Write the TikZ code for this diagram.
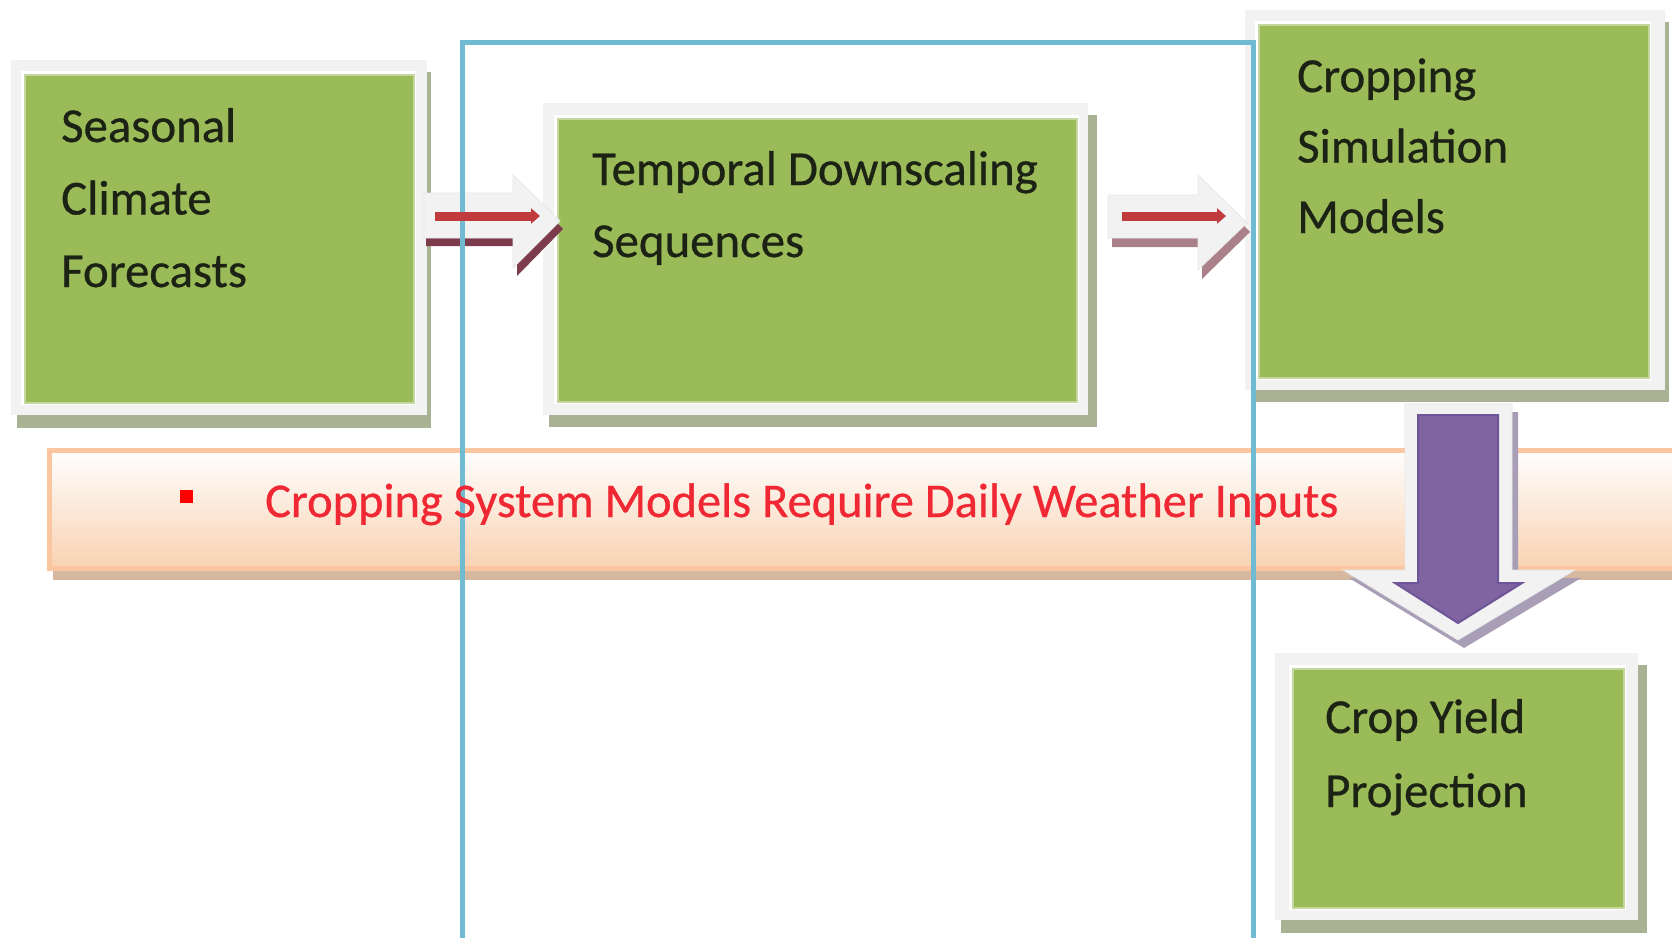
\documentclass[tikz,border=0pt]{standalone}
\usepackage{fontspec}
\setmainfont{Carlito}
\newfontfamily\heavyfont{Carlito}[FakeBold=0.6]
\usetikzlibrary{arrows.meta}
\definecolor{boxgreen}{RGB}{155,187,89}
\definecolor{boxgreenedge}{RGB}{196,216,158}
\definecolor{framegray}{RGB}{242,242,242}
\definecolor{shadowgreen}{RGB}{170,178,148}
\definecolor{bannerborder}{RGB}{250,198,160}
\definecolor{bannerbottom}{RGB}{249,210,178}
\definecolor{bannermid}{RGB}{253,236,224}
\definecolor{bannershadow}{RGB}{214,184,160}
\definecolor{textred}{RGB}{240,40,52}
\definecolor{arrowred}{RGB}{192,58,62}
\definecolor{maroonA}{RGB}{125,60,76}
\definecolor{maroonB}{RGB}{170,128,138}
\definecolor{purplefill}{RGB}{128,100,162}
\definecolor{purpleedge}{RGB}{110,85,152}
\definecolor{purpleshadow}{RGB}{168,158,182}
\definecolor{framblue}{RGB}{112,186,210}
\definecolor{boxtextc}{RGB}{28,34,20}
\begin{document}
\begin{tikzpicture}[x=1bp,y=-1bp,
  greenbox/.style={draw=boxgreenedge, line width=2bp, fill=boxgreen, inner sep=0, anchor=north west},
  boxtext/.style={anchor=base west, inner sep=0, text=boxtextc, font=\heavyfont\fontsize{49pt}{72pt}\selectfont},
  bantext/.style={anchor=base west, inner sep=0, text=textred, font=\heavyfont\fontsize{48.6pt}{72pt}\selectfont},
  blockarrow/.style={fill=framegray, draw=framegray!90!gray, line width=0.8bp},
  redline/.style={draw=arrowred, line width=9bp, -{Triangle[length=9bp,width=15bp]}}
]
\useasboundingbox (0,0) rectangle (1672,937);
\fill[white] (0,0) rectangle (1672,937);

% banner
\fill[bannershadow] (53,566) rectangle (1680,580);
\shade[top color=white, middle color=bannermid, bottom color=bannerbottom] (49,450) rectangle (1680,568);
\draw[bannerborder, line width=5bp] (1680,450) -- (49,450) -- (49,568) -- (1680,568);

% box 1
\fill[shadowgreen] (17,72) rectangle (431,428);
\fill[framegray] (11,60) rectangle (427,415);
\fill[white] (21,71) rectangle (416,405);
\node[greenbox, minimum width=389bp, minimum height=328bp] (g1) at (24,74) {};
% box 2
\fill[shadowgreen] (549,115) rectangle (1097,427);
\fill[framegray] (543,103) rectangle (1088,415);
\fill[white] (554,115) rectangle (1079,404);
\node[greenbox, minimum width=519bp, minimum height=283bp] (g2) at (557,118) {};
% box 3
\fill[shadowgreen] (1251,22) rectangle (1669,402);
\fill[framegray] (1245,10) rectangle (1665,390);
\fill[white] (1255,21) rectangle (1651,380);
\node[greenbox, minimum width=390bp, minimum height=353bp] (g3) at (1258,24) {};
% box 4
\fill[shadowgreen] (1281,665) rectangle (1647,933);
\fill[framegray] (1275,653) rectangle (1638,920);
\fill[white] (1289,665) rectangle (1626,910);
\node[greenbox, minimum width=331bp, minimum height=239bp] (g4) at (1292,668) {};

% right block arrows
\fill[maroonA] (426,201) -- (517,201) -- (517,183) -- (563,229) -- (517,276) -- (517,246) -- (426,246) -- cycle;
\path[blockarrow] (424,193) -- (513,193) -- (513,175) -- (560,221) -- (513,268) -- (513,238) -- (424,238) -- cycle;
\fill[maroonB] (1112,204) -- (1202,204) -- (1202,184) -- (1250,232) -- (1202,279) -- (1202,247) -- (1112,247) -- cycle;
\path[blockarrow] (1108,195) -- (1198,195) -- (1198,175) -- (1247,223) -- (1198,270) -- (1198,238) -- (1108,238) -- cycle;

% down arrow
\fill[purpleshadow] (1411,412) -- (1518,412) -- (1518,578) -- (1581,578) -- (1464,648) -- (1349,578) -- (1411,578) -- cycle;
\path[blockarrow] (1405,404) -- (1512,404) -- (1512,570) -- (1575,570) -- (1458,640) -- (1343,570) -- (1405,570) -- cycle;
\filldraw[fill=purplefill, draw=purpleedge, line width=2bp] (1418,415) -- (1498,415) -- (1498,583) -- (1522,583) -- (1458,623) -- (1395,583) -- (1418,583) -- cycle;

% blue frame
\draw[framblue, line width=5bp] (462,945) -- (462,42) -- (1253,42) -- (1253,945);

% red arrow lines
\coordinate (r1s) at (435,216);
\coordinate (r1e) at (540,216);
\coordinate (r2s) at (1122,216);
\coordinate (r2e) at (1226,216);
\draw[redline] (r1s) -- (r1e);
\draw[redline] (r2s) -- (r2e);

% texts
\node[boxtext] (t1) at (61,142) {\parbox[t]{600bp}{\setlength\baselineskip{72.5bp}Seasonal\\Climate\\Forecasts}};
\node[boxtext] (t2) at (592,185) {\parbox[t]{600bp}{\setlength\baselineskip{72bp}Temporal Downscaling\\Sequences}};
\node[boxtext] (t3) at (1297,92) {\parbox[t]{600bp}{\setlength\baselineskip{70.5bp}Cropping\\Simulation\\Models}};
\node[boxtext] (t4) at (1325,733) {\parbox[t]{600bp}{\setlength\baselineskip{74bp}Crop Yield\\Projection}};

% banner text
\node[fill=red, minimum width=13bp, minimum height=13bp, inner sep=0] (bul) at (186.5,496.5) {};
\node[bantext] (bt) at (265,517) {Cropping System Models Require Daily Weather Inputs};
\end{tikzpicture}
\end{document}
